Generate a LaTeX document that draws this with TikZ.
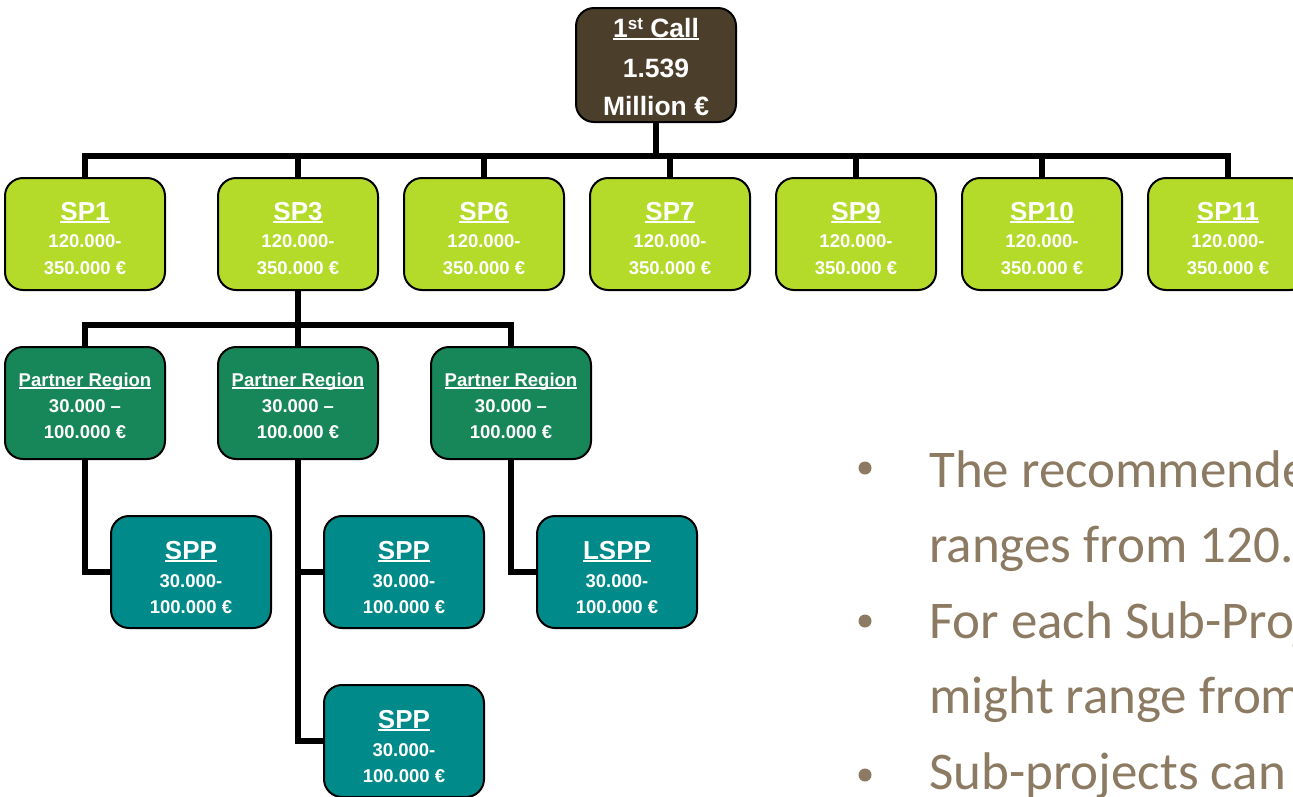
\documentclass[tikz,border=0pt]{standalone}
\usepackage{fontspec}
\usetikzlibrary{backgrounds}
\setmainfont{Liberation Sans}
\newfontfamily\bulletfont{Carlito}
\definecolor{topbrown}{HTML}{4B3F2B}
\definecolor{spgreen}{HTML}{B5DB2A}
\definecolor{prgreen}{HTML}{178659}
\definecolor{sppteal}{HTML}{008A8A}
\definecolor{bullettext}{HTML}{8C7B62}
\newcommand\myul[1]{\setbox0\hbox{#1}\rlap{\rule[-3.2pt]{\wd0}{2.3pt}}\box0}
\tikzset{
  boxbase/.style={draw=black, line width=2pt, rounded corners=18pt, inner sep=0pt},
  topbox/.style={boxbase, fill=topbrown, minimum width=160pt, minimum height=114pt},
  spbox/.style={boxbase, fill=spgreen, minimum width=160pt, minimum height=112pt},
  prbox/.style={boxbase, fill=prgreen, minimum width=160pt, minimum height=112pt},
  sppbox/.style={boxbase, fill=sppteal, minimum width=160pt, minimum height=112pt},
  ttl/.style={anchor=base, text=white, inner sep=0pt, font=\bfseries\fontsize{26}{26}\selectfont},
  prttl/.style={anchor=base, text=white, inner sep=0pt, font=\bfseries\fontsize{18.5}{18.5}\selectfont},
  num/.style={anchor=base, text=white, inner sep=0pt, font=\bfseries\fontsize{18.5}{18.5}\selectfont},
  bignum/.style={anchor=base, text=white, inner sep=0pt, font=\bfseries\fontsize{26.5}{26.5}\selectfont},
  conn/.style={line width=5.5pt, black},
  btxt/.style={anchor=base west, text=bullettext, inner sep=0pt, font=\bulletfont\fontsize{53}{53}\selectfont},
  bdot/.style={circle, fill=bullettext, inner sep=0pt, minimum size=13pt}
}
\newcommand\spnode[5]{%
  \node[spbox] (#1) at (#2,234) {};
  \node[ttl] (#1t) at (#2,220) {\myul{#3}};
  \node[num] (#1a) at (#2,247) {#4};
  \node[num] (#1b) at (#2,274) {#5};
}
\newcommand\prnode[2]{%
  \node[prbox] (#1) at (#2,403) {};
  \node[prttl] (#1t) at (#2,386) {\myul{Partner Region}};
  \node[num] (#1a) at (#2,412) {30.000 –};
  \node[num] (#1b) at (#2,438) {100.000 €};
}
\newcommand\sppnode[4]{%
  \node[sppbox] (#1) at (#2,#3) {};
  \node[ttl] (#1t) at ([yshift=13pt]#1.center) {\myul{#4}};
  \node[num] (#1a) at ([yshift=-15pt]#1.center) {30.000-};
  \node[num] (#1b) at ([yshift=-41pt]#1.center) {100.000 €};
}
\begin{document}
\begin{tikzpicture}[x=1pt,y=-1pt]
\useasboundingbox (0,0) rectangle (1293,796);
\clip (0,0) rectangle (1293,796);
\coordinate (bus) at (0,156);
\coordinate (prbus) at (0,325);
% top
\node[topbox] (top) at (656,65) {};
\node[bignum] (topt) at (656,37) {\myul{1\raisebox{8pt}{\fontsize{17}{17}\selectfont st} Call}};
\node[bignum] (topa) at (656,77) {1.539};
\node[bignum] (topb) at (656,115) {Million €};
% SP row
\spnode{sp1}{85}{SP1}{120.000-}{350.000 €}
\spnode{sp3}{298}{SP3}{120.000-}{350.000 €}
\spnode{sp6}{484}{SP6}{120.000-}{350.000 €}
\spnode{sp7}{670}{SP7}{120.000-}{350.000 €}
\spnode{sp9}{856}{SP9}{120.000-}{350.000 €}
\spnode{sp10}{1042}{SP10}{120.000-}{350.000 €}
\spnode{sp11}{1228}{SP11}{120.000-}{350.000 €}
% Partner regions
\prnode{pr1}{85}
\prnode{pr2}{298}
\prnode{pr3}{511}
% SPP
\sppnode{spp1}{191}{572}{SPP}
\sppnode{spp2}{404}{572}{SPP}
\sppnode{lspp}{617}{572}{LSPP}
\sppnode{spp3}{404}{741}{SPP}
% connectors
\begin{scope}[on background layer]
\draw[conn] (top.south) -- (top.south |- bus);
\draw[conn] (sp1.north) -- (sp1.north |- bus) -- (sp11.north |- bus) -- (sp11.north);
\foreach \s in {sp3,sp6,sp7,sp9,sp10} {\draw[conn] (\s.north) -- (\s.north |- bus);}
\draw[conn] (sp3.south) -- (sp3.south |- prbus);
\draw[conn] (pr1.north) -- (pr1.north |- prbus) -- (pr3.north |- prbus) -- (pr3.north);
\draw[conn] (pr2.north) -- (pr2.north |- prbus);
\draw[conn] (pr1.south) |- (spp1.west);
\draw[conn] (pr2.south) |- (spp3.west);
\draw[conn] (pr2.south |- spp2.west) -- (spp2.west);
\draw[conn] (pr3.south) |- (lspp.west);
\end{scope}
% bullets
\node[bdot] (d1) at (865,468) {};
\node[bdot] (d2) at (865,621) {};
\node[bdot] (d3) at (865,775) {};
\node[btxt] (b1) at (929,487) {The recommended};
\node[btxt] (b2) at (929,562.5) {ranges from 120.000};
\node[btxt] (b3) at (929,638) {For each Sub-Project};
\node[btxt] (b4) at (929,713.5) {might range from};
\node[btxt] (b5) at (929,789) {Sub-projects can};
\end{tikzpicture}
\end{document}
